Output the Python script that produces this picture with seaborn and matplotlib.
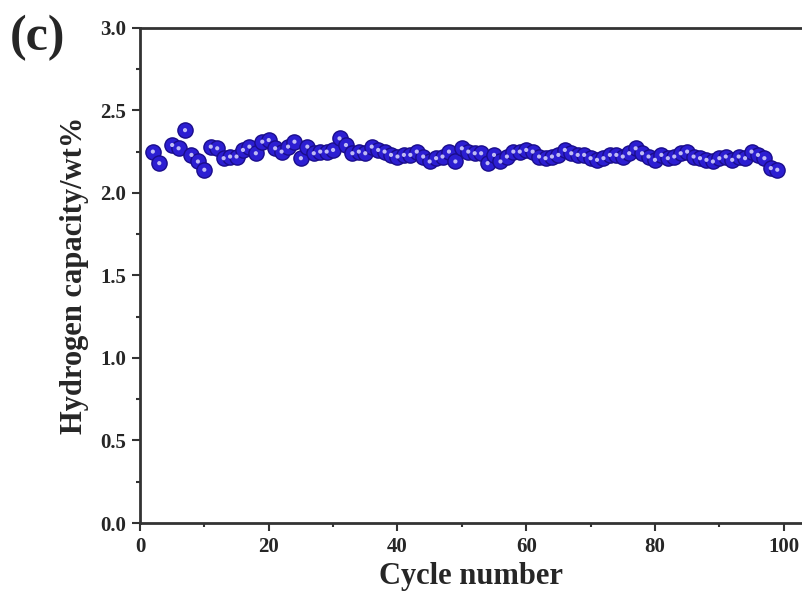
import matplotlib
matplotlib.use("Agg")
import matplotlib.pyplot as plt
import seaborn as sns
import pandas as pd
from matplotlib.ticker import MultipleLocator

cycles = [2, 3] + list(range(5, 100))
capacity = [2.25, 2.18,
            2.29, 2.27, 2.38, 2.23, 2.19, 2.14, 2.28, 2.27, 2.21, 2.22,
            2.22, 2.26, 2.28, 2.24, 2.31, 2.32, 2.27, 2.25, 2.28, 2.31,
            2.21, 2.28, 2.24, 2.25, 2.25, 2.26, 2.33, 2.29, 2.24, 2.25,
            2.24, 2.28, 2.26, 2.25, 2.23, 2.22, 2.23, 2.23, 2.25, 2.22,
            2.19, 2.21, 2.22, 2.25, 2.19, 2.27, 2.25, 2.24, 2.24, 2.18,
            2.23, 2.19, 2.22, 2.25, 2.25, 2.26, 2.25, 2.22, 2.21, 2.22,
            2.23, 2.26, 2.24, 2.23, 2.23, 2.21, 2.20, 2.21, 2.23, 2.23,
            2.22, 2.24, 2.27, 2.24, 2.22, 2.20, 2.23, 2.21, 2.22, 2.24,
            2.25, 2.22, 2.21, 2.20, 2.19, 2.21, 2.22, 2.20, 2.22, 2.21,
            2.25, 2.23, 2.21, 2.15, 2.14]
x_ticks = [0, 20, 40, 60, 80, 100]
y_ticks = [0.0, 0.5, 1.0, 1.5, 2.0, 2.5, 3.0]

df = pd.DataFrame({"cycle": cycles, "capacity": capacity})

sns.set_style("ticks")
plt.rcParams['font.family'] = ['Liberation Serif', 'DejaVu Serif']
plt.rcParams['font.weight'] = 'bold'

fig = plt.figure(figsize=(8.03, 6.08), dpi=100)
ax = fig.add_axes([0.1743, 0.1398, 0.8257, 0.8145])

sns.scatterplot(data=df, x="cycle", y="capacity", ax=ax, s=120,
                color="#2c1ed2", edgecolor="#1a0d8c", linewidth=1.0, zorder=3)
sns.scatterplot(data=df, x="cycle", y="capacity", ax=ax, s=9,
                color="#c0bbf5", edgecolor="none", linewidth=0, zorder=4)

ax.set_xlim(0, 103)
ax.set_ylim(0, 3.0)
ax.set_xticks(x_ticks)
ax.set_yticks(y_ticks)
ax.set_xticklabels([str(t) for t in x_ticks], fontsize=15, fontweight='bold')
ax.set_yticklabels([f"{t:.1f}" for t in y_ticks], fontsize=15, fontweight='bold')
ax.xaxis.set_minor_locator(MultipleLocator(10))
ax.yaxis.set_minor_locator(MultipleLocator(0.25))
ax.tick_params(axis='both', which='major', direction='out', length=6, width=1.5, color='#333333', pad=4)
ax.tick_params(axis='both', which='minor', direction='out', length=3, width=1.5, color='#333333')
for sp in ax.spines.values():
    sp.set_linewidth(2)
    sp.set_color('#333333')

ax.set_xlabel("Cycle number", fontsize=22, fontweight='bold', labelpad=4)
ax.set_ylabel("Hydrogen capacity/wt%", fontsize=22, fontweight='bold', labelpad=8)

fig.text(0.012, 0.975, "(c)", fontsize=36, fontweight='bold', va='top', ha='left')

fig.savefig("out.png", dpi=100)
